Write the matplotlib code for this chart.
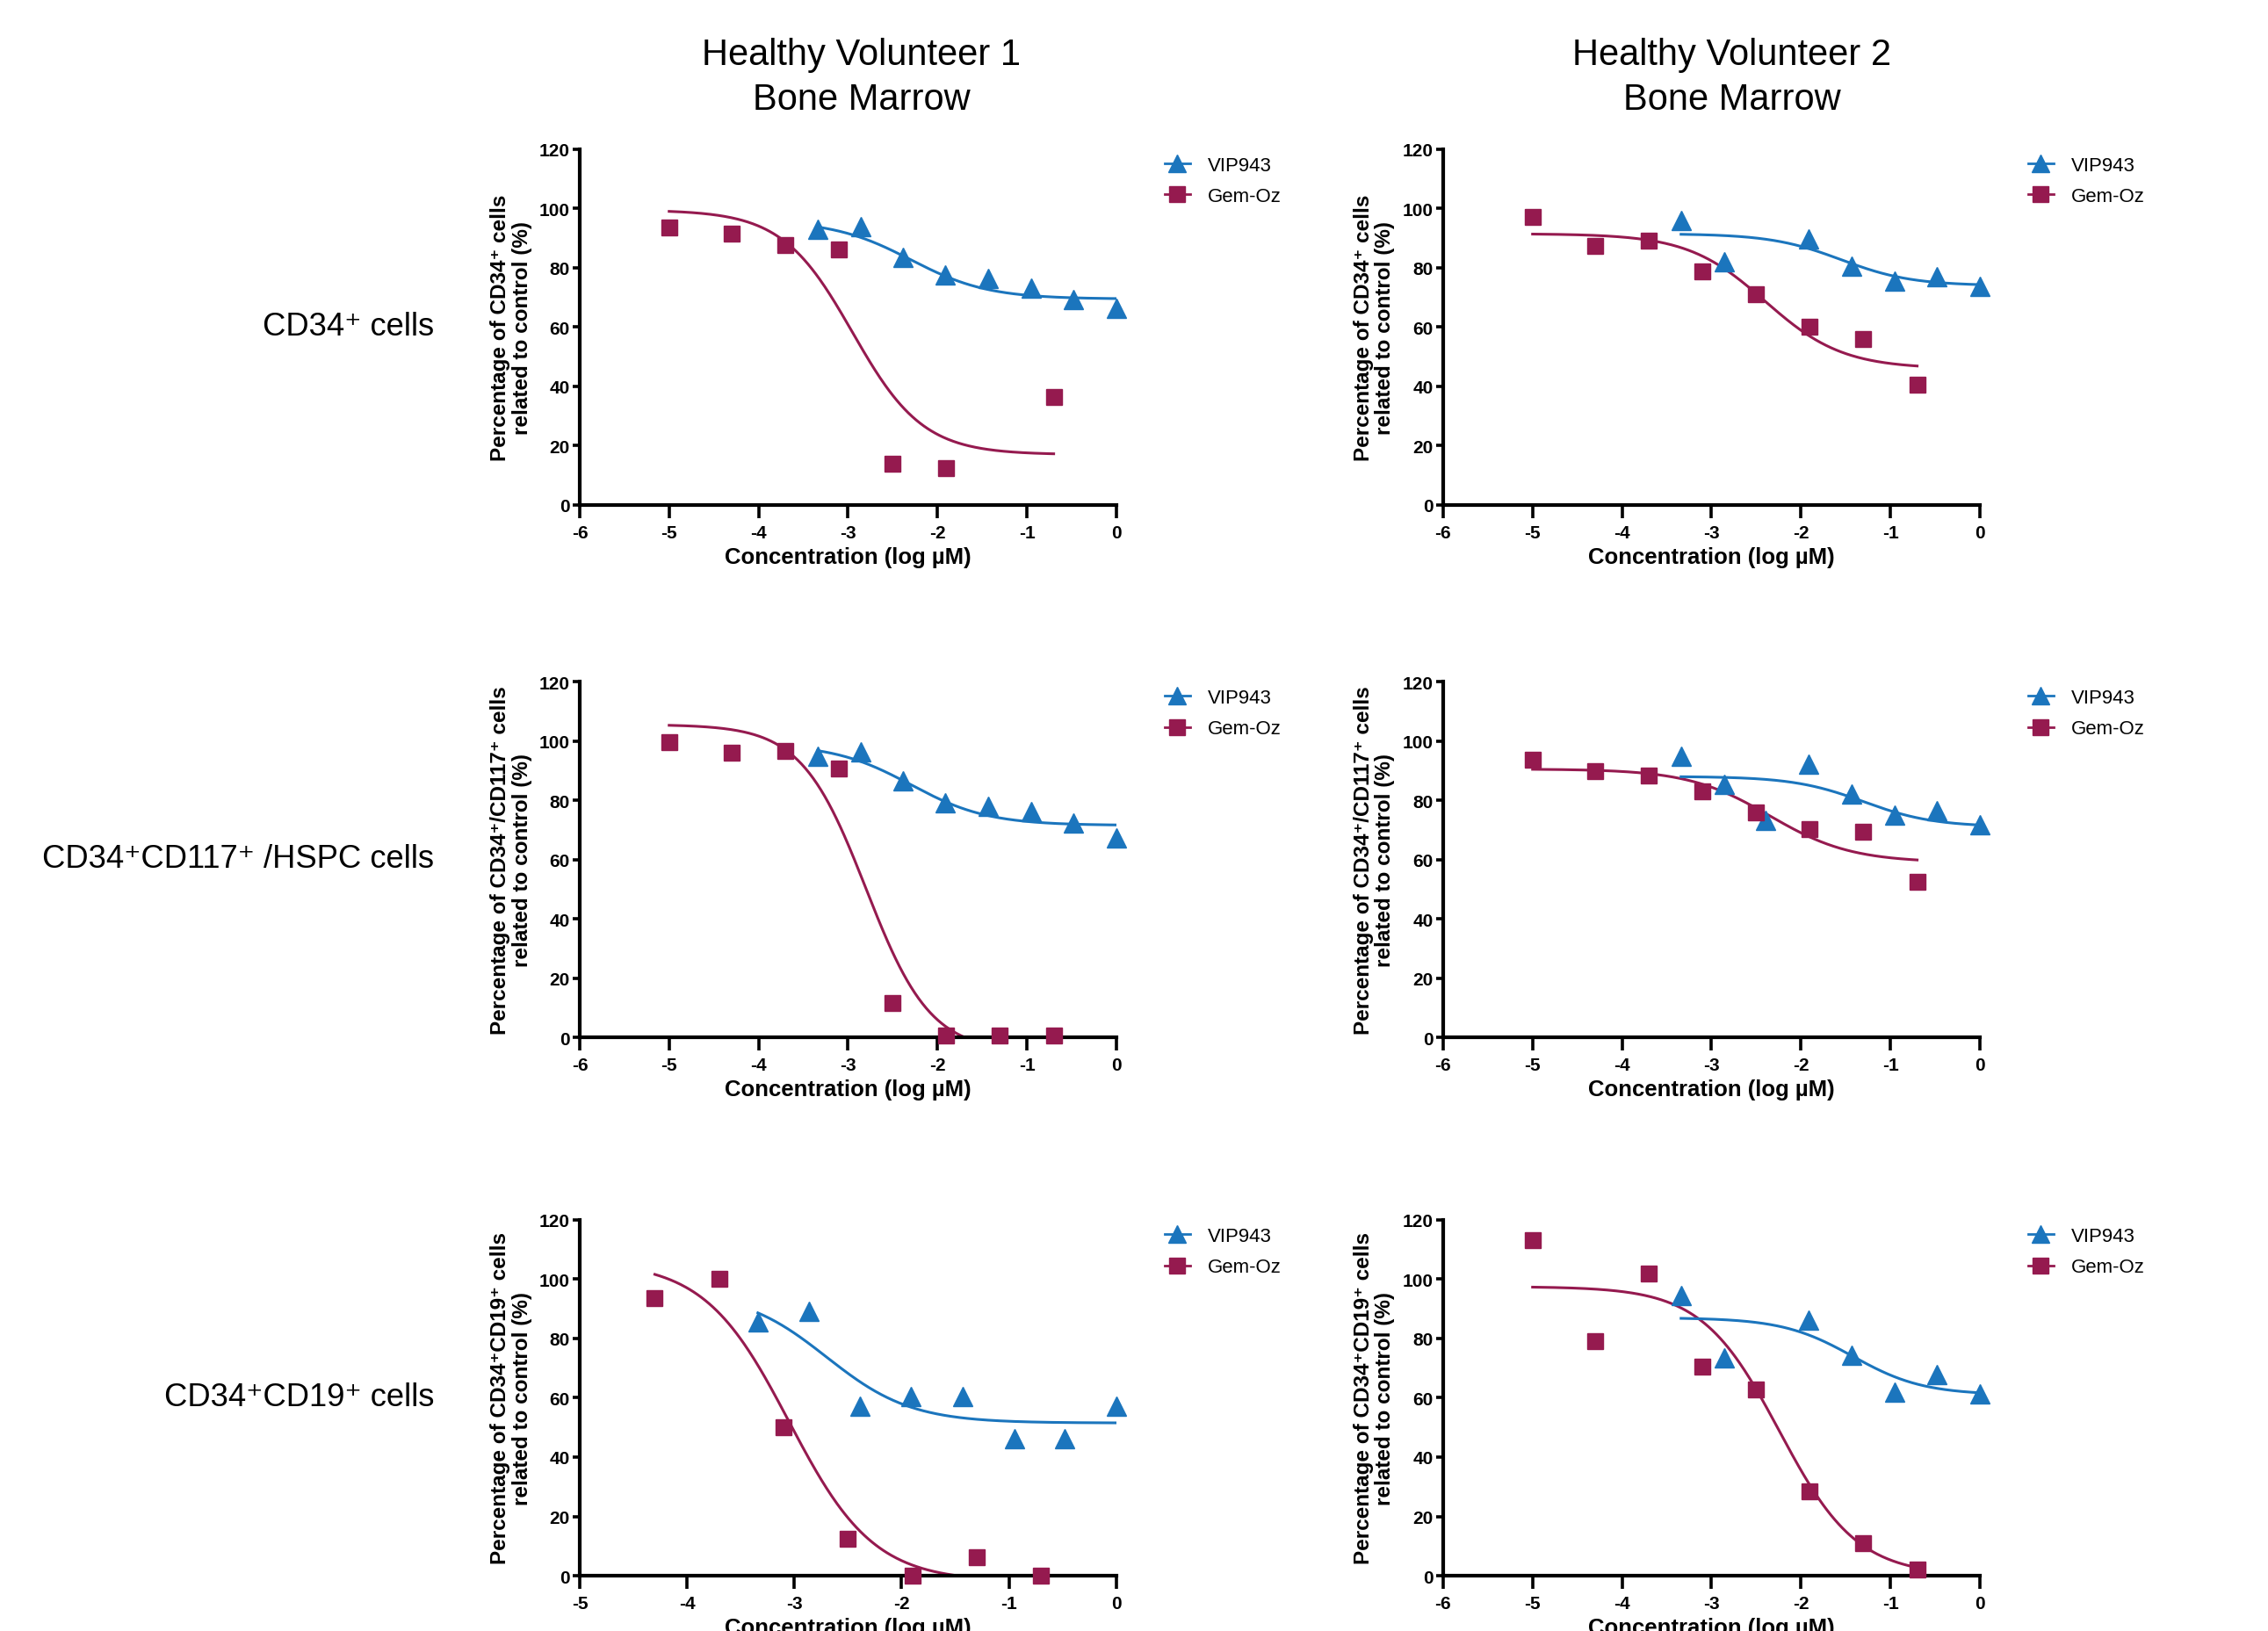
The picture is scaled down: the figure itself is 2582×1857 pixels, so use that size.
import numpy as np
import matplotlib
matplotlib.use("Agg")
import matplotlib.pyplot as plt

plt.rcParams['axes.unicode_minus'] = False

# ---- data ----
volunteers = ["Healthy Volunteer 1\nBone Marrow", "Healthy Volunteer 2\nBone Marrow"]
populations = ["CD34\u207a cells", "CD34\u207aCD117\u207a /HSPC cells", "CD34\u207aCD19\u207a cells"]
ylabels = ["Percentage of CD34\u207a cells\nrelated to control (%)",
           "Percentage of CD34\u207a/CD117\u207a cells\nrelated to control (%)",
           "Percentage of CD34\u207aCD19\u207a cells\nrelated to control (%)"]

x_gem = [-5.0, -4.3, -3.7, -3.1, -2.5, -1.9, -1.3, -0.7]
x_vip = [-3.34, -2.86, -2.39, -1.91, -1.43, -0.95, -0.48, 0.0]

# Gem-Oz points per panel (row, col); None = no point at that concentration
gem_hv1_cd34 = [93.5, 91.5, 87.6, 86.2, 14.0, 12.4, None, 36.5]
gem_hv2_cd34 = [97.2, 87.4, 89.3, 78.8, 71.2, 60.0, 55.9, 40.6]
gem_hv1_cd117 = [99.6, 96.0, 96.6, 90.6, 11.7, 0.5, 0.5, 0.5]
gem_hv2_cd117 = [93.6, 89.9, 88.2, 83.0, 76.0, 70.3, 69.3, 52.5]
gem_hv1_cd19 = [None, 93.6, 100.0, 50.0, 12.4, 0.1, 6.2, 0.1]
gem_hv2_cd19 = [113.1, 79.0, 101.9, 70.5, 62.9, 28.3, 11.1, 2.2]

# VIP943 points per panel
vip_hv1_cd34 = [93.0, 94.0, 83.5, 77.6, 76.4, 73.2, 69.3, 66.5]
vip_hv2_cd34 = [96.0, 82.2, None, 89.9, 80.7, 75.6, 77.1, 73.8]
vip_hv1_cd117 = [94.8, 96.3, 86.4, 79.0, 77.8, 76.3, 72.3, 67.4]
vip_hv2_cd117 = [94.8, 85.4, 73.1, 92.1, 82.0, 74.9, 76.5, 71.6]
vip_hv1_cd19 = [85.7, 89.3, 57.1, 60.5, 60.5, 46.2, 46.2, 57.1]
vip_hv2_cd19 = [94.5, 73.6, None, 86.1, 74.3, 61.9, 67.9, 61.4]

# fitted 4PL curves: top, bottom, logEC50, hill slope
fit_gem = [[(99.5, 17.0, -2.95, 1.1), (91.5, 46.0, -2.40, 1.0)],
           [(105.5, -5.0, -2.80, 1.2), (90.5, 59.0, -2.35, 0.95)],
           [(106.0, -2.0, -3.05, 1.1), (97.5, 0.0, -2.24, 1.0)]]
fit_vip = [[(96.0, 69.5, -2.30, 1.0), (91.5, 74.0, -1.55, 1.1)],
           [(99.0, 71.5, -2.30, 1.0), (88.0, 71.0, -1.30, 1.1)],
           [(96.0, 51.5, -2.70, 1.1), (87.0, 61.0, -1.42, 1.1)]]

gem = [[gem_hv1_cd34, gem_hv2_cd34], [gem_hv1_cd117, gem_hv2_cd117], [gem_hv1_cd19, gem_hv2_cd19]]
vip = [[vip_hv1_cd34, vip_hv2_cd34], [vip_hv1_cd117, vip_hv2_cd117], [vip_hv1_cd19, vip_hv2_cd19]]
xmins = [[-6, -6], [-6, -6], [-5, -6]]

blue = '#1b75bd'
purple = '#951a4f'
sans = ['Liberation Sans', 'DejaVu Sans']
narrow = ['Liberation Sans Narrow', 'Liberation Sans', 'DejaVu Sans']


def four_pl(x, top, bottom, logec, hill):
    return bottom + (top - bottom) / (1 + 10 ** ((x - logec) * hill))


def pairs(xs, ys):
    pts = [(a, b) for a, b in zip(xs, ys) if b is not None]
    return [p[0] for p in pts], [p[1] for p in pts]


fig = plt.figure(figsize=(25.82, 18.58), dpi=100)
fig.patch.set_facecolor('white')

lefts = [0.2556, 0.6363]
bottoms = [0.690, 0.3638, 0.0339]
w, h = 0.2366, 0.218

for r in range(3):
    for c in range(2):
        ax = fig.add_axes([lefts[c], bottoms[r], w, h])

        gx, gy = pairs(x_gem, gem[r][c])
        vx, vy = pairs(x_vip, vip[r][c])

        xs = np.linspace(min(gx), max(gx), 300)
        ax.plot(xs, four_pl(xs, *fit_gem[r][c]), color=purple, lw=2.2, zorder=2)
        xs = np.linspace(min(vx), max(vx), 300)
        ax.plot(xs, four_pl(xs, *fit_vip[r][c]), color=blue, lw=2.2, zorder=2)

        ax.plot(vx, vy, ls='none', marker='^', ms=15.5, color=blue, clip_on=False, zorder=4)
        ax.plot(gx, gy, ls='none', marker='s', ms=13, color=purple, clip_on=False, zorder=4)

        # legend proxies
        ax.plot([], [], color=blue, marker='^', ms=15, lw=2, label='VIP943')
        ax.plot([], [], color=purple, marker='s', ms=13, lw=2, label='Gem-Oz')
        ax.legend(loc='upper left', bbox_to_anchor=(1.072, 1.008), frameon=False,
                  handlelength=1.3, handletextpad=0.9, labelspacing=0.65, borderpad=0,
                  prop={'family': sans, 'size': 16})

        ax.set_xlim(xmins[r][c], 0)
        ax.set_ylim(0, 120)
        ax.set_xticks(range(xmins[r][c], 1))
        ax.set_yticks(range(0, 121, 20))

        for s in ['top', 'right']:
            ax.spines[s].set_visible(False)
        for s in ['left', 'bottom']:
            ax.spines[s].set_linewidth(3)
        ax.tick_params(axis='x', length=11, width=2.6, pad=5)
        ax.tick_params(axis='y', length=6, width=2.6, pad=2)
        for lab in ax.get_xticklabels() + ax.get_yticklabels():
            lab.set_family(narrow)
            lab.set_fontweight('bold')
            lab.set_fontsize(15)

        ax.set_xlabel('Concentration (log \u00b5M)', family=narrow, fontweight='bold',
                      fontsize=18.5, labelpad=4)
        ax.set_ylabel(ylabels[r], family=sans, fontweight='bold', fontsize=17.5,
                      labelpad=6, linespacing=1.1)

# column titles
title_dx = [0.006, 0.009]
for c, t in enumerate(volunteers):
    fig.text(lefts[c] + w / 2 + title_dx[c], 0.9523, t, ha='center', va='center',
             family=sans, fontsize=30, linespacing=1.35)

# row labels
for r, t in enumerate(populations):
    fig.text(0.1915, bottoms[r] + h / 2 + 0.0005, t, ha='right', va='center',
             family=sans, fontsize=26.2)

fig.savefig('out.png', dpi=100, facecolor='white')
